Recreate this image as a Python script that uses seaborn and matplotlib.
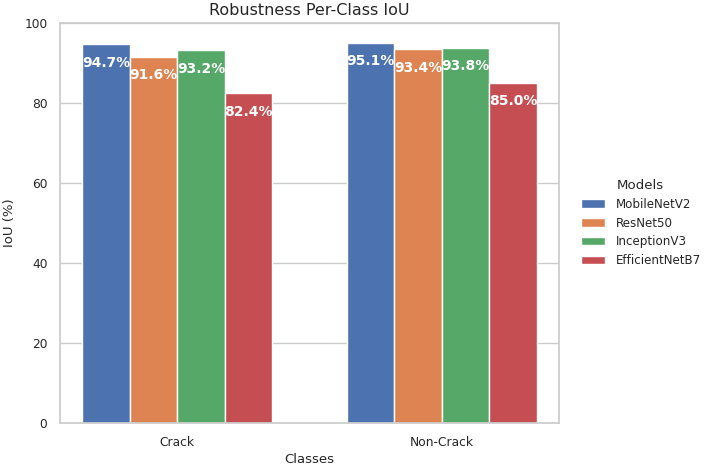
import pandas as pd
import matplotlib
matplotlib.use("Agg")
import matplotlib.pyplot as plt
import seaborn as sns

classes = ["Crack", "Non-Crack"]
models = ["MobileNetV2", "ResNet50", "InceptionV3", "EfficientNetB7"]
iou_crack = [94.7, 91.6, 93.2, 82.4]
iou_noncrack = [95.1, 93.4, 93.8, 85.0]

rows = []
for m, c, n in zip(models, iou_crack, iou_noncrack):
    rows.append({"Classes": "Crack", "Model": m, "IoU": c})
    rows.append({"Classes": "Non-Crack", "Model": m, "IoU": n})
df = pd.DataFrame(rows)

sns.set_theme(style="whitegrid")

fig = plt.figure(figsize=(7.08, 4.67), dpi=100)
ax = fig.add_axes([0.0847, 0.0942, 0.705, 0.8565])

sns.barplot(data=df, x="Classes", y="IoU", hue="Model", order=classes,
            hue_order=models, palette="deep", saturation=1, width=0.716,
            ax=ax)

# Wertbeschriftungen in den Balken
for container in ax.containers:
    for bar in container:
        h = bar.get_height()
        ax.text(bar.get_x() + bar.get_width() / 2, h - 4.6, f"{h:.1f}%",
                ha="center", va="center", color="white", fontsize=10,
                fontweight="bold")

ax.set_xlim(-0.443, 1.443)
ax.set_ylim(0, 100)
ax.set_title("Robustness Per-Class IoU", fontsize=11.5)
ax.set_xlabel("Classes", fontsize=9.5, labelpad=3)
ax.set_ylabel("IoU (%)", fontsize=9.5, labelpad=6)
ax.tick_params(labelsize=8.8, pad=3)

ax.legend(title="Models", loc="center left", bbox_to_anchor=(1.022, 0.5),
          frameon=False, fontsize=8.6, title_fontsize=9.6, handletextpad=0.9)

fig.savefig("out.png", dpi=100)
